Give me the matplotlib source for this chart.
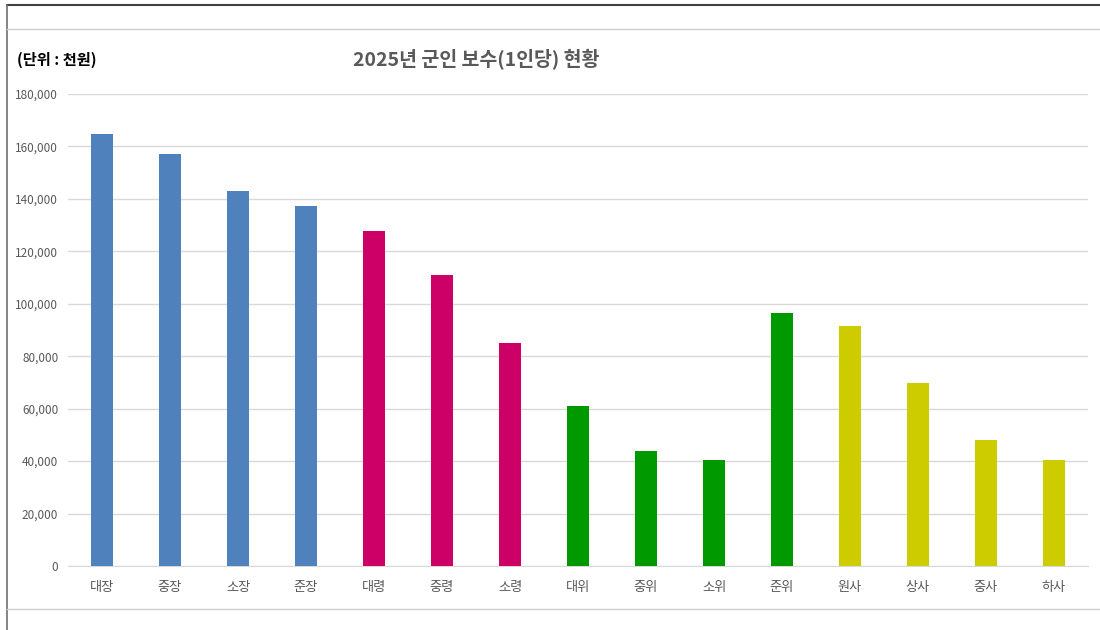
import matplotlib
matplotlib.use("Agg")
import matplotlib.pyplot as plt
from matplotlib.lines import Line2D

plt.rcParams["font.family"] = ["Noto Sans CJK KR", "DejaVu Sans"]

# data (unit: thousand won)
ranks = ["대장", "중장", "소장", "준장", "대령", "중령", "소령", "대위",
         "중위", "소위", "준위", "원사", "상사", "중사", "하사"]
pay = [164800, 157250, 142850, 137400, 127600, 111050, 85000, 61200,
       43900, 40450, 96450, 91700, 69750, 48100, 40450]
groups = ["general"] * 4 + ["field"] * 3 + ["company"] * 4 + ["nco"] * 4
group_colors = {"general": "#4F81BD", "field": "#CC0066",
                "company": "#009900", "nco": "#CCCC00"}
yticks = list(range(0, 180001, 20000))

fig = plt.figure(figsize=(11, 6.3), dpi=100)
ax = fig.add_axes([68 / 1100, 1 - 566 / 630, 1020 / 1100, 472 / 630])

colors = [group_colors[g] for g in groups]
ax.bar(range(len(ranks)), pay, width=0.31, color=colors, zorder=3)

ax.set_xlim(-0.5, len(ranks) - 0.5)
ax.set_ylim(0, 180000)
ax.set_yticks(yticks)
ax.set_yticklabels([f"{v:,}" for v in yticks], fontsize=8.5, color="#595959")
ax.set_xticks(range(len(ranks)))
ax.set_xticklabels(ranks, fontsize=9.5, color="#595959")
ax.tick_params(axis="both", length=0)
ax.tick_params(axis="y", pad=7)
ax.tick_params(axis="x", pad=11)
ax.grid(axis="y", color="#D9D9D9", linewidth=1, zorder=0)

for side in ["top", "right", "left"]:
    ax.spines[side].set_visible(False)
ax.spines["bottom"].set_color("#D9D9D9")

fig.text(476 / 1100, 1 - 60 / 630, "2025년 군인 보수(1인당) 현황", ha="center",
         va="center", fontsize=14, fontweight="bold", color="#595959")
fig.text(17 / 1100, 1 - 60 / 630, "(단위 : 천원)", ha="left", va="center",
         fontsize=11, fontweight="bold", color="#000000")

# sheet frame lines
fig.add_artist(Line2D([7 / 1100, 1], [1 - 5 / 630] * 2, color="#404040", lw=1.5))
fig.add_artist(Line2D([7 / 1100] * 2, [0, 1 - 5 / 630], color="#707070", lw=1.2))
fig.add_artist(Line2D([7 / 1100, 1], [1 - 29 / 630] * 2, color="#D0D0D0", lw=1))
fig.add_artist(Line2D([7 / 1100, 1], [1 - 609 / 630] * 2, color="#D0D0D0", lw=1))

fig.savefig("out.png", dpi=100)
